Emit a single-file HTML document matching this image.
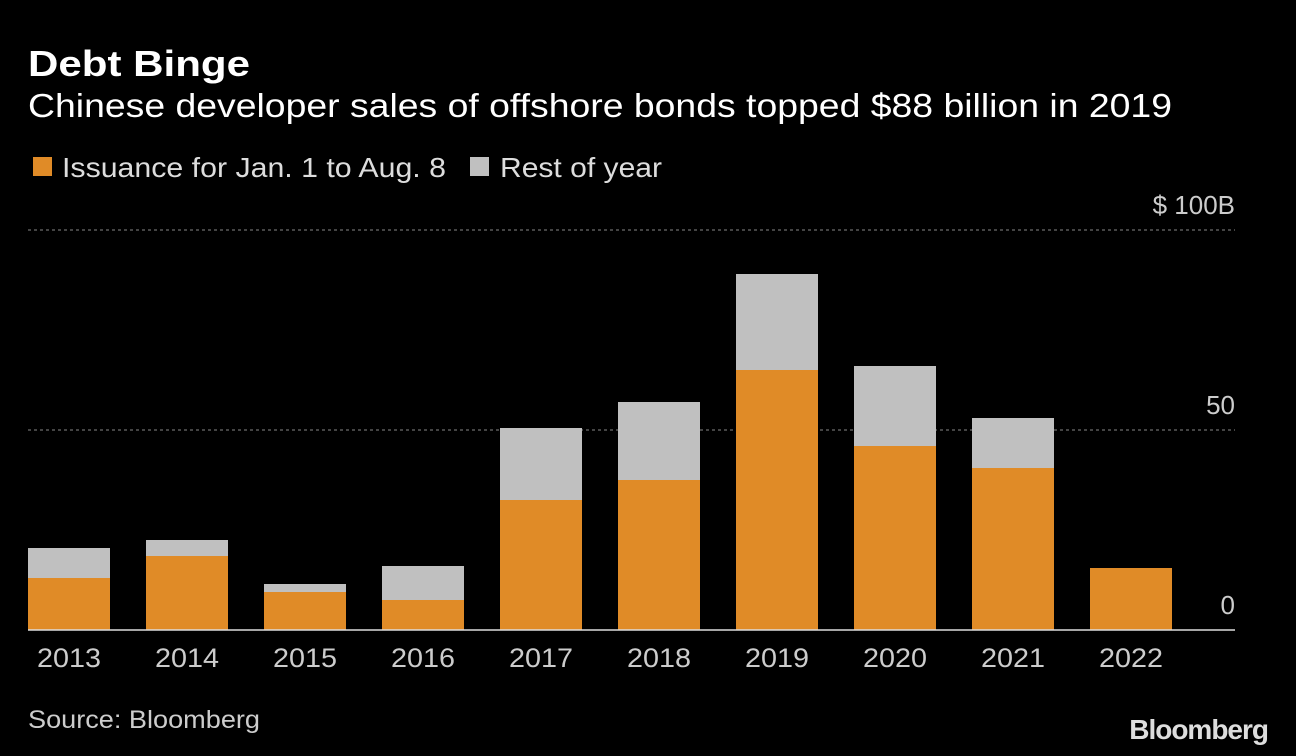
<!DOCTYPE html>
<html><head><meta charset="utf-8"><style>
body{margin:0;background:#000;width:1296px;height:756px;overflow:hidden;font-family:"Liberation Sans",sans-serif;color:#fff}
</style></head><body>
<svg width="1296" height="756" style="position:absolute;left:0;top:0">
<text x="28" y="76" font-size="36" font-weight="bold" fill="#fff" textLength="222" lengthAdjust="spacingAndGlyphs">Debt Binge</text>
<text x="28" y="117" font-size="33" fill="#fff" textLength="1144" lengthAdjust="spacingAndGlyphs">Chinese developer sales of offshore bonds topped $88 billion in 2019</text>
<rect x="33" y="157" width="19" height="19" fill="#e08b27"/>
<text x="62" y="177" font-size="28" fill="#ddd" textLength="384" lengthAdjust="spacingAndGlyphs">Issuance for Jan. 1 to Aug. 8</text>
<rect x="470" y="157" width="19" height="19" fill="#c0c0c0"/>
<text x="500" y="177" font-size="28" fill="#ddd" textLength="162" lengthAdjust="spacingAndGlyphs">Rest of year</text>
<g id="grid"></g><g id="bars"></g><g id="xlab"></g>
<line x1="28" x2="1235" y1="630" y2="630" stroke="#ddd" stroke-width="1.5"/>
<text x="28" y="728" font-size="25" fill="#ccc" textLength="232" lengthAdjust="spacingAndGlyphs">Source: Bloomberg</text>
<text x="1268" y="739" font-size="28" font-weight="bold" fill="#ddd" text-anchor="end" letter-spacing="-1">Bloomberg</text>
</svg>
<script>
const years=["2013","2014","2015","2016","2017","2018","2019","2020","2021","2022"];
const issuance=[13,18.5,9.5,7.5,32.5,37.5,65,46,40.5,15.5];
const restOfYear=[7.5,4,2,8.5,18,19.5,24,20,12.5,0];
const ticks=[0,50,100];
const tickLabels=["0","50","$ 100B"];
const NS="http://www.w3.org/2000/svg";
const y=v=>630-v*4;
const x=i=>28+i*118;
function mk(t,a,p){const e=document.createElementNS(NS,t);for(const k in a)e.setAttribute(k,a[k]);p.appendChild(e);return e;}
const g=document.getElementById('grid'),b=document.getElementById('bars'),xl=document.getElementById('xlab');
ticks.forEach((t,i)=>{
 if(t>0){const l=mk('line',{x1:28,x2:1235,y1:y(t),y2:y(t),stroke:'#888','stroke-dasharray':'3,3'},g);
 
 }
 const tx=mk('text',{x:1235,y:y(t)-16,'font-size':26,fill:'#ccc','text-anchor':'end'},g);tx.textContent=tickLabels[i];
 
 
});
years.forEach((yr,i)=>{
 const o=mk('rect',{x:x(i),width:82,y:y(issuance[i]),height:issuance[i]*4,fill:'#e08b27'},b);
 
 
 if(restOfYear[i]>0){const r=mk('rect',{x:x(i),width:82,y:y(issuance[i]+restOfYear[i]),height:restOfYear[i]*4,fill:'#c0c0c0'},b);
 
 }
 const t=mk('text',{x:x(i)+41,y:667,'font-size':27,fill:'#ccc','text-anchor':'middle',textLength:64,lengthAdjust:'spacingAndGlyphs'},xl);t.textContent=yr;
 
 
});
</script>
</body></html>
